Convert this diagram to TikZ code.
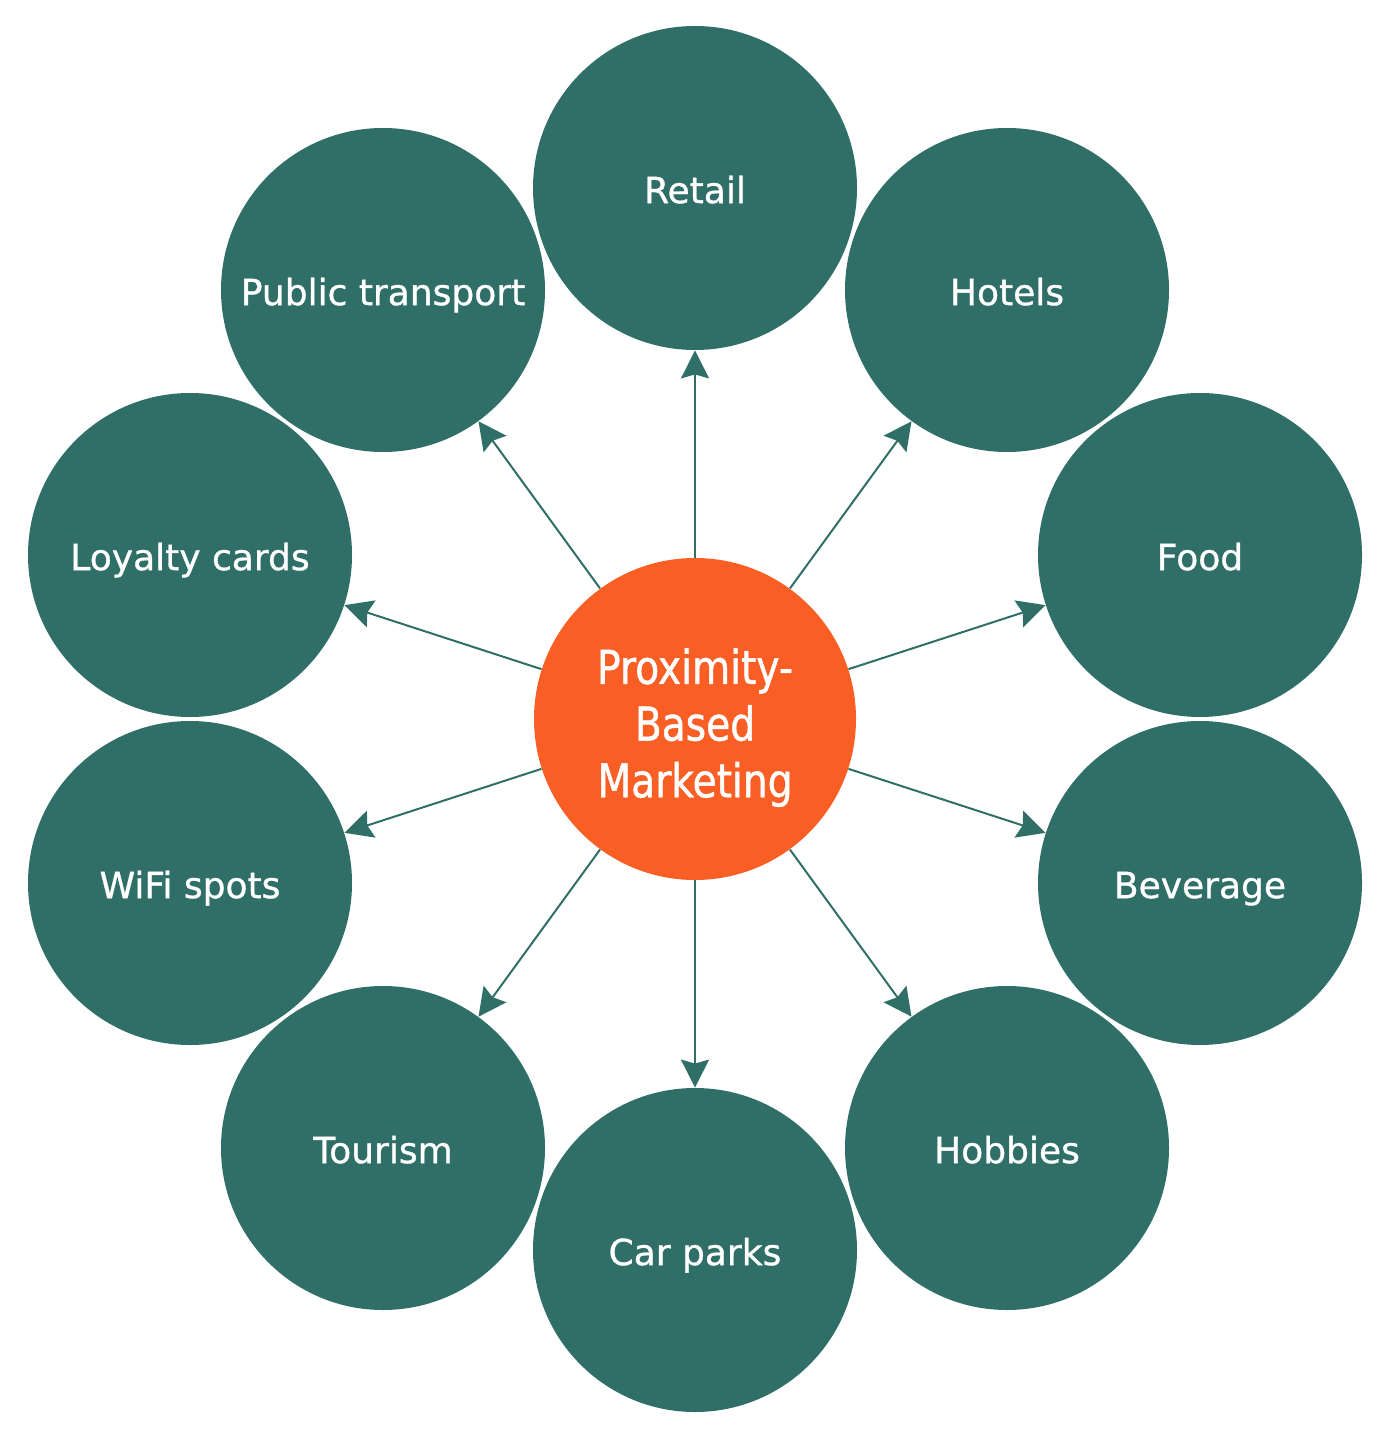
\documentclass[tikz,border=0pt]{standalone}
\usepackage{fontspec}
\setmainfont[FakeBold=0.9]{DejaVu Sans}
\newfontfamily\outfont[FakeBold=0.9]{DejaVu Sans}
\newfontfamily\hubfont[FakeStretch=0.84,FakeBold=1.0]{DejaVu Sans}
\usetikzlibrary{arrows.meta}
\definecolor{teal1}{RGB}{48,111,103}
\definecolor{orange1}{RGB}{249,94,37}
\tikzset{
  outer/.style={circle, fill=teal1, draw=none, minimum size=162pt, inner sep=0pt, text=white,
    font=\outfont\fontsize{18}{21.6}\selectfont, text height=15.1pt, text depth=0pt},
  hub/.style={circle, fill=orange1, draw=none, minimum size=161pt, inner sep=0pt},
  hubtext/.style={text=white, align=center, inner sep=0pt, font=\hubfont\fontsize{23.3}{28.35}\selectfont},
  arr/.style={draw=teal1, line width=1pt, -{Stealth[length=14pt, width=14pt, inset=2pt]}}
}
\begin{document}
\begin{tikzpicture}[x=0.5pt, y=-0.5pt]
\useasboundingbox (0,0) rectangle (1390,1438);
\node[hub] (c) at (695,719) {};
\node[hubtext, yshift=-4.35pt] (ct) at (c) {Proximity-\\Based\\Marketing};
\node[outer] (n1) at (695,188) {Retail};
\node[outer] (n2) at (1007,290) {Hotels};
\node[outer] (n3) at (1200,555) {Food};
\node[outer] (n4) at (1200,883) {Beverage};
\node[outer] (n5) at (1007,1148) {Hobbies};
\node[outer] (n6) at (695,1250) {Car parks};
\node[outer] (n7) at (383,1148) {Tourism};
\node[outer] (n8) at (190,883) {WiFi spots};
\node[outer] (n9) at (190,555) {Loyalty cards};
\node[outer] (n10) at (383,290) {Public transport};
\foreach \i in {1,...,10} {\draw[arr] (c) -- (n\i);}
\end{tikzpicture}
\end{document}
